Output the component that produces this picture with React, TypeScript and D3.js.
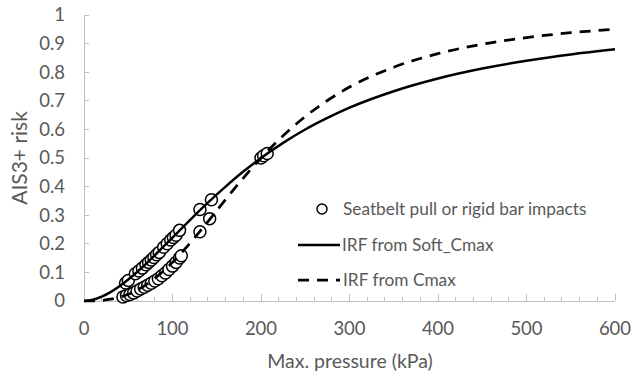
import React from "react";
import * as d3 from "d3";

// Injury risk functions (AIS3+ risk vs. max. pressure in kPa)
const softCmaxX = [0, 10, 20, 30, 40, 50, 60, 70, 80, 90, 100, 120, 140, 160, 180, 200, 225, 250, 275, 300, 350, 400, 450, 500, 550, 600];
const softCmaxY = [0, 0.0044, 0.0153, 0.031, 0.0515, 0.075, 0.1016, 0.13, 0.16, 0.1907, 0.2219, 0.284, 0.344, 0.4, 0.4525, 0.5, 0.553, 0.5996, 0.64, 0.676, 0.7336, 0.778, 0.8127, 0.84, 0.862, 0.88];

const cmaxX = [0, 10, 20, 30, 40, 50, 60, 70, 80, 90, 100, 120, 140, 160, 180, 200, 225, 250, 275, 300, 350, 400, 450, 500, 550, 600];
const cmaxY = [0, 0.0003, 0.0021, 0.0062, 0.0132, 0.0238, 0.0382, 0.0566, 0.079, 0.1053, 0.135, 0.2028, 0.2777, 0.3548, 0.43, 0.5, 0.578, 0.645, 0.701, 0.748, 0.8175, 0.865, 0.898, 0.921, 0.938, 0.95];

// Test results: seatbelt pull / rigid bar impacts
const testPressure = [
  47, 50, 58, 62, 66, 70, 73, 76, 79, 82, 85, 90, 94, 98, 101, 104, 108, 131, 144, 200, 203, 207,
  44, 48, 52, 56, 60, 64, 68, 72, 76, 80, 84, 88, 92, 96, 100, 104, 108, 110, 131, 142,
];
const testRisk = [
  0.063, 0.072, 0.095, 0.105, 0.115, 0.127, 0.135, 0.143, 0.152, 0.162, 0.17, 0.188, 0.2, 0.213, 0.222, 0.23, 0.247, 0.32, 0.354, 0.5, 0.508, 0.516,
  0.014, 0.019, 0.023, 0.028, 0.035, 0.042, 0.048, 0.055, 0.062, 0.07, 0.078, 0.088, 0.098, 0.11, 0.122, 0.135, 0.15, 0.158, 0.242, 0.288,
];

const xTicks = [0, 100, 200, 300, 400, 500, 600];
const xMinorTicks = d3.range(0, 601, 20);
const yTicks = [0, 0.1, 0.2, 0.3, 0.4, 0.5, 0.6, 0.7, 0.8, 0.9, 1];

const legendLabels = ["Seatbelt pull or rigid bar impacts", "IRF from Soft_Cmax", "IRF from Cmax"];

const W = 633;
const H = 377;
const FONT = "Lato, 'Open Sans', sans-serif";
const TEXT = "#595959";
const AXIS = "#bfbfbf";

export default function App() {
  const x = d3.scaleLinear().domain([0, 600]).range([84, 615]);
  const y = d3.scaleLinear().domain([0, 1]).range([301, 15]);

  const line = d3
    .line<[number, number]>()
    .x((d) => x(d[0]))
    .y((d) => y(d[1]))
    .curve(d3.curveMonotoneX);

  const softPts: [number, number][] = softCmaxX.map((v, i) => [v, softCmaxY[i]]);
  const cmaxPts: [number, number][] = cmaxX.map((v, i) => [v, cmaxY[i]]);

  const fmt = d3.format("~g");

  return (
    <div style={{ position: "fixed", left: 0, top: 0 }}>
      <svg width={W} height={H} style={{ display: "block", background: "#fff" }}>
        <rect width={W} height={H} fill="#fff" />

        {/* axes */}
        <g stroke={AXIS} strokeWidth={1} shapeRendering="crispEdges">
          <line x1={x(0)} x2={x(0)} y1={y(0)} y2={y(1)} />
          <line x1={x(0)} x2={x(600)} y1={y(0)} y2={y(0)} />
          {yTicks.map((t) => (
            <line key={"yt" + t} x1={x(0)} x2={x(0) + 5} y1={y(t)} y2={y(t)} />
          ))}
          {xMinorTicks.map((t) => (
            <line key={"xt" + t} x1={x(t)} x2={x(t)} y1={y(0)} y2={y(0) - (t % 100 === 0 ? 7 : 4)} />
          ))}
        </g>

        {/* tick labels */}
        <g fill={TEXT} fontFamily={FONT} fontSize={18.5}>
          {yTicks.map((t) => (
            <text key={"yl" + t} x={65} y={y(t)} dy="0.35em" textAnchor="end">
              {fmt(t)}
            </text>
          ))}
          {xTicks.map((t) => (
            <text key={"xl" + t} x={x(t)} y={329} dy="0.35em" textAnchor="middle">
              {t}
            </text>
          ))}
        </g>

        {/* axis titles */}
        <text x={350} y={361} dy="0.35em" textAnchor="middle" fill={TEXT} fontFamily={FONT} fontSize={19.5}>
          Max. pressure (kPa)
        </text>
        <text
          transform={`translate(20,${y(0.5)}) rotate(-90)`}
          dy="0.35em"
          textAnchor="middle"
          fill={TEXT}
          fontFamily={FONT}
          fontSize={21}
        >
          AIS3+ risk
        </text>

        {/* test points */}
        <g fill="#fff" stroke="#000" strokeWidth={1.5}>
          {testPressure.map((p, i) => (
            <circle key={"c" + i} cx={x(p)} cy={y(testRisk[i])} r={6} />
          ))}
        </g>

        {/* risk curves */}
        <path d={line(softPts) || ""} fill="none" stroke="#000" strokeWidth={2.5} />
        <path d={line(cmaxPts) || ""} fill="none" stroke="#000" strokeWidth={2.75} strokeDasharray="11 8" />

        {/* legend */}
        <g fontFamily={FONT} fontSize={17.3} fill={TEXT}>
          <circle cx={322} cy={209} r={5} fill="#fff" stroke="#000" strokeWidth={1.5} />
          <text x={343} y={209} dy="0.35em">{legendLabels[0]}</text>
          <line x1={298} x2={340} y1={245} y2={245} stroke="#000" strokeWidth={2.5} />
          <text x={342} y={245} dy="0.35em">{legendLabels[1]}</text>
          <line x1={298} x2={340} y1={280} y2={280} stroke="#000" strokeWidth={2.75} strokeDasharray="11 8" />
          <text x={343} y={280} dy="0.35em">{legendLabels[2]}</text>
        </g>
      </svg>
    </div>
  );
}
